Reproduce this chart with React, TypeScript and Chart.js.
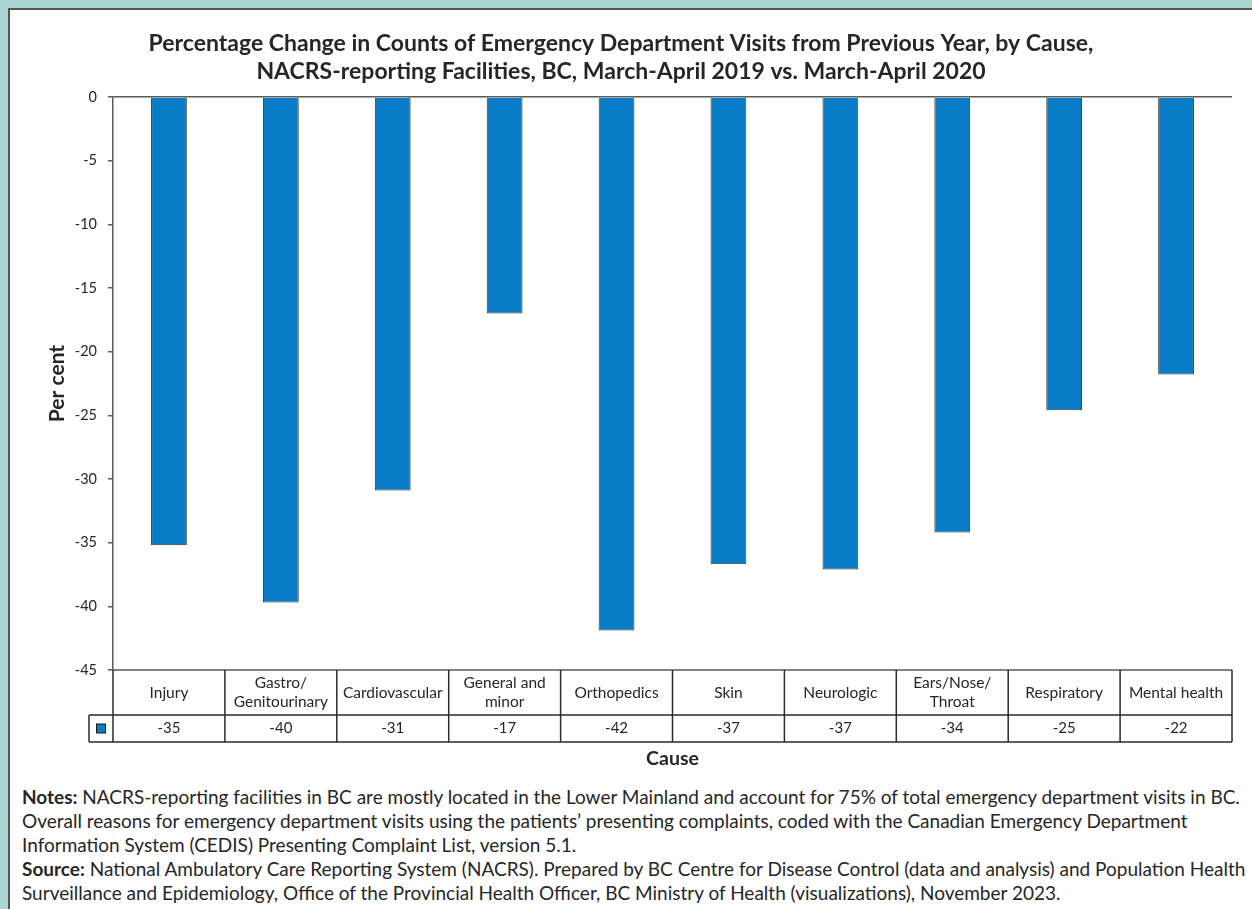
import React, { useEffect, useRef } from 'react';
import { Chart, registerables } from 'chart.js';

Chart.register(...registerables);

const FONT = 'Lato, "Open Sans", "DejaVu Sans", sans-serif';
const TEXT = '#262626';
const AXIS = '#595959';
const BAR = '#087cc6';

const titleLines = [
  'Percentage Change in Counts of Emergency Department Visits from Previous Year, by Cause,',
  'NACRS-reporting Facilities, BC, March-April 2019 vs. March-April 2020',
];

const categories: (string | string[])[] = [
  'Injury',
  ['Gastro/', 'Genitourinary'],
  'Cardiovascular',
  ['General and', 'minor'],
  'Orthopedics',
  'Skin',
  'Neurologic',
  ['Ears/Nose/', 'Throat'],
  'Respiratory',
  'Mental health',
];

const percentChange = [-35.2, -39.7, -30.9, -17.0, -41.9, -36.7, -37.1, -34.2, -24.6, -21.8];

const yMin = -45;
const yMax = 0;
const yStep = 5;

const tablePlugin = {
  id: 'dataTable',
  afterDraw(chart: any) {
    const { ctx, chartArea, scales } = chart;
    const x = scales.x;
    const top = chartArea.bottom;
    const mid = top + 45;
    const bot = mid + 27;
    const left = chartArea.left;
    const right = chartArea.right;
    const legendLeft = left - 24;
    const n = categories.length;
    const bounds: number[] = [left];
    for (let i = 0; i < n - 1; i++) {
      bounds.push((x.getPixelForValue(i) + x.getPixelForValue(i + 1)) / 2);
    }
    bounds.push(right);

    ctx.save();
    ctx.strokeStyle = AXIS;
    ctx.lineWidth = 1.5;
    ctx.beginPath();
    ctx.moveTo(left, top);
    ctx.lineTo(right, top);
    ctx.stroke();

    ctx.strokeStyle = '#2b2b2b';
    ctx.lineWidth = 1.5;
    ctx.beginPath();
    ctx.moveTo(legendLeft, mid);
    ctx.lineTo(right, mid);
    ctx.moveTo(legendLeft, bot);
    ctx.lineTo(right, bot);
    ctx.moveTo(legendLeft, mid);
    ctx.lineTo(legendLeft, bot);
    bounds.forEach((b) => {
      ctx.moveTo(b, top);
      ctx.lineTo(b, bot);
    });
    ctx.stroke();

    const cy = (mid + bot) / 2;
    const cx = (legendLeft + left) / 2;
    ctx.fillStyle = BAR;
    ctx.fillRect(cx - 4.5, cy - 4.5, 9, 9);
    ctx.strokeStyle = '#1a1a1a';
    ctx.lineWidth = 1;
    ctx.strokeRect(cx - 4.5, cy - 4.5, 9, 9);

    ctx.fillStyle = TEXT;
    ctx.font = `15px ${FONT}`;
    ctx.textAlign = 'center';
    ctx.textBaseline = 'middle';
    percentChange.forEach((v, i) => {
      ctx.fillText(String(Math.round(v)), x.getPixelForValue(i), cy);
    });
    ctx.restore();
  },
};

export default function App() {
  const ref = useRef<HTMLCanvasElement | null>(null);

  useEffect(() => {
    if (!ref.current) return;
    const chart = new Chart(ref.current, {
      type: 'bar',
      data: {
        labels: categories,
        datasets: [
          {
            data: percentChange,
            backgroundColor: BAR,
            borderColor: '#3a3a3a',
            borderWidth: 1,
            barPercentage: 0.32,
            categoryPercentage: 1,
          },
        ],
      },
      options: {
        responsive: false,
        maintainAspectRatio: false,
        animation: false,
        layout: { padding: { left: 0, right: 20, top: 0, bottom: 0 } },
        plugins: {
          legend: { display: false },
          tooltip: { enabled: false },
          title: {
            display: true,
            text: titleLines,
            color: TEXT,
            font: { family: FONT, size: 23, weight: 'bold', lineHeight: 28 / 23 },
            padding: { top: 20, bottom: 11 },
          },
        },
        scales: {
          x: {
            offset: true,
            grid: { display: false, drawTicks: false, tickLength: 0 },
            border: { display: false },
            ticks: {
              color: TEXT,
              font: { family: FONT, size: 15.5, lineHeight: 19 / 15.5 },
              padding: 13,
              crossAlign: 'center',
              maxRotation: 0,
              minRotation: 0,
              autoSkip: false,
            },
            title: {
              display: true,
              text: 'Cause',
              color: TEXT,
              font: { family: FONT, size: 19.5, weight: 'bold', lineHeight: 1.2 },
              padding: { top: 0, bottom: 5 },
            },
            afterFit(s: any) {
              s.height = 105;
            },
          },
          y: {
            min: yMin,
            max: yMax,
            ticks: {
              stepSize: yStep,
              color: TEXT,
              font: { family: FONT, size: 14.5 },
              padding: 11,
            },
            grid: {
              color: (c: any) => (c.tick && c.tick.value === 0 ? AXIS : 'rgba(0,0,0,0)'),
              tickColor: AXIS,
              tickLength: 5,
              lineWidth: 1.5,
            },
            border: { display: true, color: AXIS, width: 1.5 },
            title: {
              display: true,
              text: 'Per cent',
              color: TEXT,
              font: { family: FONT, size: 21, weight: 'bold', lineHeight: 1.2 },
              padding: { top: 35, bottom: 0 },
            },
            afterFit(s: any) {
              s.width = 103;
            },
          },
        },
      } as any,
      plugins: [tablePlugin],
    });
    return () => chart.destroy();
  }, []);

  const noteStyle: React.CSSProperties = {
    position: 'absolute',
    left: 12,
    top: 775,
    fontFamily: FONT,
    fontSize: 19,
    lineHeight: '24px',
    color: TEXT,
    whiteSpace: 'nowrap',
  };

  return (
    <div style={{ position: 'fixed', inset: 0, background: '#a9d5d3', overflow: 'hidden' }}>
      <div
        style={{
          position: 'absolute',
          left: 8,
          top: 8,
          width: 1400,
          height: 1100,
          background: '#ffffff',
          borderLeft: '2px solid #555555',
          borderTop: '2px solid #555555',
        }}
      >
        <div style={{ position: 'absolute', left: 0, top: 0, width: 1242, height: 765 }}>
          <canvas ref={ref} width={1242} height={765} style={{ width: 1242, height: 765, display: 'block' }} />
        </div>
        <div style={noteStyle}>
          <div>
            <b>Notes:</b> NACRS-reporting facilities in BC are mostly located in the Lower Mainland and account for 75% of total emergency department visits in BC.
          </div>
          <div>
            Overall reasons for emergency department visits using the patients’ presenting complaints, coded with the Canadian Emergency Department
          </div>
          <div>Information System (CEDIS) Presenting Complaint List, version 5.1.</div>
          <div>
            <b>Source:</b> National Ambulatory Care Reporting System (NACRS). Prepared by BC Centre for Disease Control (data and analysis) and Population Health
          </div>
          <div>Surveillance and Epidemiology, Office of the Provincial Health Officer, BC Ministry of Health (visualizations), November 2023.</div>
        </div>
      </div>
    </div>
  );
}
